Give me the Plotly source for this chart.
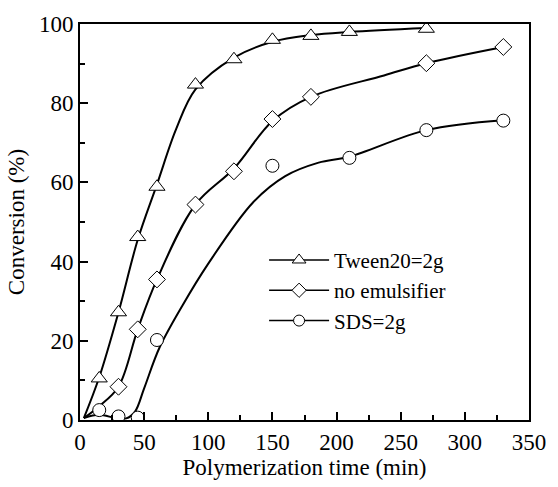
import plotly.graph_objects as go

# Measured data points
names = ["Tween20=2g", "no emulsifier", "SDS=2g"]
symbols = ["triangle-up", "diamond", "circle"]

tween_t = [15, 30, 45, 60, 90, 120, 150, 180, 210, 270]
tween_c = [10.5, 27.2, 46.2, 58.9, 84.7, 91.1, 96.0, 97.0, 98.0, 98.8]

none_t = [30, 45, 60, 90, 120, 150, 180, 270, 330]
none_c = [8.4, 22.9, 35.5, 54.4, 62.8, 76.0, 81.6, 90.1, 94.2]

sds_t = [15, 30, 45, 60, 150, 210, 270, 330]
sds_c = [2.5, 0.9, 0.6, 20.2, 64.2, 66.2, 73.2, 75.6]

# Fitted curves
tween_fit_t = [3, 15, 30, 45, 60, 75, 90, 120, 150, 180, 210, 270]
tween_fit_c = [0.5, 10.8, 27.2, 45.5, 59.5, 73.5, 83.5, 91.5, 95.5, 97.2, 98.0, 99.0]

none_fit_t = [3, 15, 30, 45, 60, 90, 120, 150, 180, 237, 270, 330]
none_fit_c = [0.5, 3.5, 8.4, 22.9, 35.5, 54.4, 63.5, 75.5, 81.6, 87.0, 90.1, 94.2]

sds_fit_t = [3, 15, 28, 36, 43, 50, 62, 80, 100, 135, 160, 186, 210, 270, 330]
sds_fit_c = [0.5, 1.3, 0.5, 0.4, 2.2, 8.0, 18.3, 29.0, 39.5, 55.0, 61.6, 65.0, 66.5, 73.2, 75.7]

series_pts = [(tween_t, tween_c), (none_t, none_c), (sds_t, sds_c)]
series_fit = [(tween_fit_t, tween_fit_c), (none_fit_t, none_fit_c), (sds_fit_t, sds_fit_c)]
sizes = [14, 13, 13]

FONT = "Times New Roman, Liberation Serif, DejaVu Serif, serif"

fig = go.Figure()
for (ft, fc) in series_fit:
    fig.add_trace(go.Scatter(x=ft, y=fc, mode="lines", line=dict(color="black", width=2, shape="spline", smoothing=1.0),
                             showlegend=False, hoverinfo="skip"))
for (pt, pc), sym, sz in zip(series_pts, symbols, sizes):
    fig.add_trace(go.Scatter(x=pt, y=pc, mode="markers",
                             marker=dict(symbol=sym, size=sz, color="white",
                                         line=dict(color="black", width=1)),
                             showlegend=False))
for name, sym, sz in zip(names, symbols, sizes):
    fig.add_trace(go.Scatter(x=[None], y=[None], mode="lines+markers", name=name,
                             line=dict(color="black", width=1.5),
                             marker=dict(symbol=sym, size=sz - 2, color="white",
                                         line=dict(color="black", width=1))))

axis_common = dict(showline=True, linecolor="black", linewidth=2, mirror=True, showgrid=False, zeroline=False,
                   ticks="inside", ticklen=8, tickwidth=1.5, tickcolor="black",
                   tickfont=dict(family=FONT, size=23, color="black"))

fig.update_xaxes(range=[0, 350], tick0=0, dtick=50,
                 minor=dict(ticks="inside", ticklen=5, tickwidth=1.5, dtick=25, tickcolor="black"),
                 title=dict(text="Polymerization time (min)", font=dict(family=FONT, size=23, color="black"), standoff=4),
                 **axis_common)
fig.update_yaxes(range=[0, 100], tick0=0, dtick=20,
                 minor=dict(ticks="inside", ticklen=5, tickwidth=1.5, dtick=10, tickcolor="black"),
                 title=dict(text="Conversion (%)", font=dict(family=FONT, size=23, color="black"), standoff=8),
                 **axis_common)

fig.update_layout(
    width=558, height=487,
    margin=dict(l=80, r=21, t=24, b=64),
    paper_bgcolor="white", plot_bgcolor="white",
    font=dict(family=FONT, size=23, color="black"),
    legend=dict(x=0.41, y=0.455, xanchor="left", yanchor="top", bgcolor="rgba(0,0,0,0)",
                font=dict(family=FONT, size=21, color="black"), itemwidth=60, tracegroupgap=0),
    showlegend=True,
)

fig.write_html("out.html")
